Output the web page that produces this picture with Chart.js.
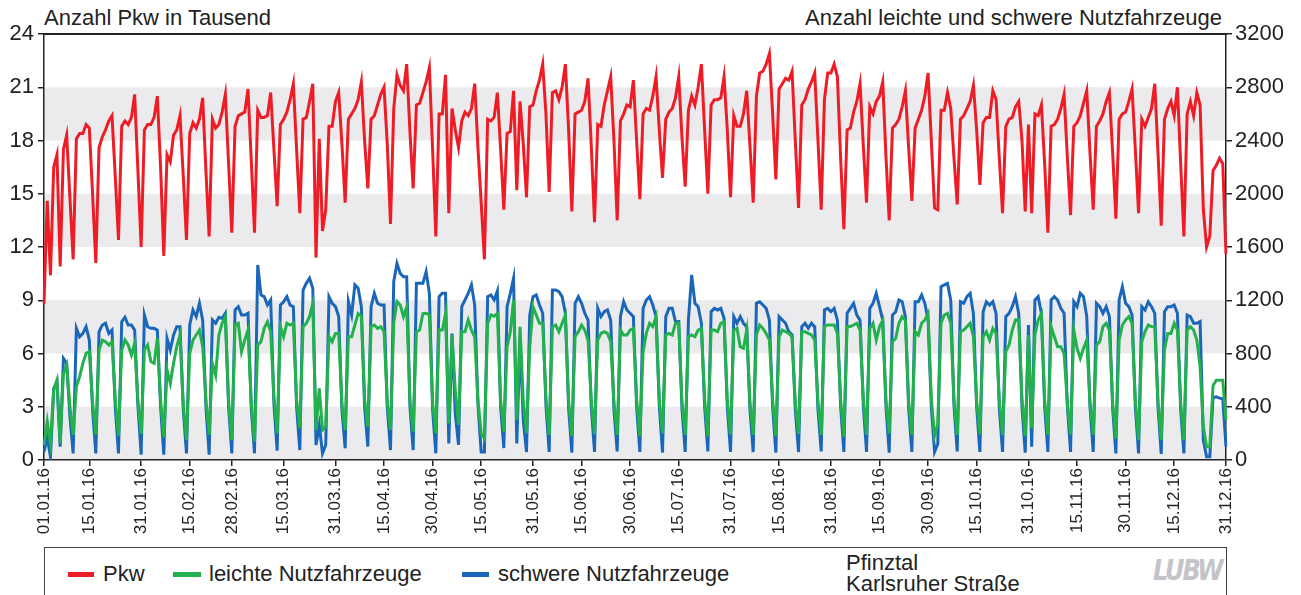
<!DOCTYPE html>
<html><head><meta charset="utf-8">
<script src="https://cdn.jsdelivr.net/npm/chart.js@4.4.1/dist/chart.umd.min.js"></script>
<style>
html,body{margin:0;padding:0;background:#fff;}
body{width:1301px;height:595px;overflow:hidden;position:relative;font-family:"Liberation Sans",Arial,sans-serif;color:#222;}
.t{position:absolute;white-space:nowrap;font-size:22px;line-height:24px;}
#legend{position:absolute;left:44px;top:547px;width:1183px;height:60px;border:1px solid #444;box-sizing:border-box;}
.sw{position:absolute;height:5px;top:24px;}
.lt{position:absolute;top:14px;font-size:22px;line-height:24px;white-space:nowrap;}
#warn{position:absolute;left:300px;top:300px;color:#f0f;font-size:30px;}
</style></head>
<body>
<div class="t" style="left:44px;top:6px;">Anzahl Pkw in Tausend</div>
<div class="t" style="right:79px;top:6px;">Anzahl leichte und schwere Nutzfahrzeuge</div>
<canvas id="c" width="1301" height="545" style="position:absolute;left:0;top:0;"></canvas>
<div id="legend">
  <div class="sw" style="left:23px;width:26px;background:#ee1c25;"></div>
  <div class="lt" style="left:58px;">Pkw</div>
  <div class="sw" style="left:128px;width:28px;background:#22b14c;"></div>
  <div class="lt" style="left:164px;">leichte Nutzfahrzeuge</div>
  <div class="sw" style="left:417px;width:27px;background:#1a66b8;"></div>
  <div class="lt" style="left:453px;">schwere Nutzfahrzeuge</div>
  <div class="lt" style="left:801px;top:3px;">Pfinztal</div>
  <div class="lt" style="left:801px;top:24px;">Karlsruher Straße</div>
  <div class="lt" style="left:1108px;top:11px;font-size:28px;font-weight:bold;font-style:italic;color:#c4c4c8;letter-spacing:-2px;font-family:'Liberation Sans Narrow','DejaVu Sans Condensed',sans-serif;transform:scaleX(0.95);transform-origin:left center;">LUBW</div>
</div>
<div id="warn"></div>
<script>
// ---- categories: every day of 2016 ----
const days = [];
for (let d = new Date(2016, 0, 1); d.getFullYear() === 2016; d.setDate(d.getDate() + 1)) {
  const dd = String(d.getDate()).padStart(2, '0'), mm = String(d.getMonth() + 1).padStart(2, '0');
  days.push(dd + '.' + mm + '.16');
}
// ---- x tick labels ----
const tickLabels = ["01.01.16","15.01.16","31.01.16","15.02.16","28.02.16","15.03.16","31.03.16","15.04.16","30.04.16","15.05.16","31.05.16","15.06.16","30.06.16","15.07.16","31.07.16","15.08.16","31.08.16","15.09.16","30.09.16","15.10.16","31.10.16","15.11.16","30.11.16","15.12.16","31.12.16"];
const leftTicks = [0,3,6,9,12,15,18,21,24];
const rightTicks = [0,400,800,1200,1600,2000,2400,2800,3200];

// ---- Pkw in Tausend (daily) ----
const pkw = [
 8.8,14.6,10.4,
 16.5,17.2,10.9,17.5,18.3,14.8,11.3,
 18.1,18.4,18.4,18.9,18.7,15.0,11.1,
 17.6,18.2,18.6,19.1,19.4,16.0,12.4,
 18.8,19.1,18.9,19.3,20.6,16.3,12.0,
 18.6,18.9,18.9,19.3,20.5,16.5,11.5,
 17.2,16.8,18.3,18.6,19.4,16.0,12.4,
 18.4,19.0,18.7,19.2,20.4,16.3,12.6,
 19.2,18.7,18.9,19.6,20.6,16.7,12.8,
 18.8,19.4,19.5,19.6,20.9,16.9,12.8,
 19.7,19.3,19.3,19.4,20.7,17.5,14.3,
 18.9,19.2,19.6,20.3,21.2,17.5,13.9,
 19.2,19.3,20.2,21.2,11.4,18.1,12.9,
 14.1,18.8,18.8,20.2,20.7,17.8,14.5,
 19.2,19.5,19.8,20.3,21.3,18.0,15.3,
 19.2,19.4,20.0,20.6,21.0,17.8,13.3,
 19.8,21.7,21.1,20.8,22.3,18.5,15.3,
 20.0,20.1,20.7,21.3,22.1,17.5,12.6,
 19.5,19.5,21.7,13.9,19.8,18.6,17.6,
 19.1,19.6,19.4,19.8,21.2,17.6,14.5,
 11.3,19.2,19.1,19.3,20.7,17.5,14.1,
 18.4,18.5,20.8,15.2,20.2,17.8,14.8,
 19.9,20.0,20.8,21.4,22.3,19.5,15.1,
 20.7,20.8,20.3,21.0,22.3,18.6,14.0,
 19.5,19.6,19.7,20.2,21.5,17.7,13.4,
 18.9,18.8,20.0,20.8,21.6,18.0,13.5,
 19.1,19.5,20.0,19.9,21.4,18.0,14.7,
 19.5,19.8,19.7,20.5,21.6,18.6,15.9,
 19.2,19.6,19.8,20.4,21.6,18.2,15.4,
 19.7,20.5,20.0,21.0,22.3,18.6,15.0,
 20.0,20.3,20.3,20.4,21.6,18.6,14.8,
 19.4,18.8,18.8,19.5,20.8,17.7,14.5,
 20.5,21.8,21.9,22.3,22.9,19.5,15.8,
 20.9,21.2,21.5,21.4,21.9,18.0,14.2,
 20.0,20.3,20.9,21.3,21.8,18.0,14.1,
 20.3,21.8,21.8,22.3,21.6,17.0,13.0,
 18.6,18.7,19.6,20.2,21.2,17.7,14.5,
 19.9,19.5,20.2,20.5,21.3,17.1,13.5,
 18.7,18.9,19.2,19.9,20.8,17.6,14.6,
 18.7,19.2,19.7,20.5,21.8,18.0,14.2,
 14.1,19.7,19.7,20.7,19.8,17.0,14.4,
 19.2,19.4,19.8,20.2,21.1,18.6,15.5,
 19.0,19.3,19.3,20.8,20.3,17.0,13.9,
 18.8,19.2,19.3,19.9,20.2,18.0,14.0,
 18.9,13.9,19.5,19.4,20.0,16.7,12.8,
 18.8,18.9,19.2,19.8,20.6,17.1,13.8,
 18.8,19.0,19.4,20.1,20.8,17.3,14.1,
 18.8,19.1,19.5,20.2,20.7,17.3,13.6,
 19.2,19.5,19.6,20.2,20.9,17.5,13.9,
 19.2,18.8,19.3,19.8,21.2,17.3,13.2,
 19.2,19.8,20.2,19.4,21.0,16.7,12.6,
 19.5,20.2,19.4,20.7,20.0,14.1,12.0,
 12.6,16.3,16.6,17.0,16.7,11.6
];

// ---- leichte Nutzfahrzeuge (daily) ----
const leichte = [
 110,290,120,
 526,600,125,650,714,400,188,
 550,626,726,801,814,430,190,
 826,901,889,864,889,460,180,
 826,901,864,789,876,440,195,
 826,864,739,726,914,450,170,
 676,576,726,851,939,420,150,
 801,901,939,976,850,460,188,
 726,638,939,1027,1077,440,150,
 1014,1027,814,901,976,430,140,
 864,889,989,1039,964,470,200,
 1002,926,1027,1014,1027,450,238,
 1002,1027,1077,1177,225,538,225,
 250,926,889,951,951,420,225,
 926,926,1014,1100,1080,460,250,
 1002,1014,989,1002,964,430,225,
 1027,1190,1164,1077,1150,450,213,
 964,976,1100,1102,1089,430,200,
 976,976,1100,275,939,526,263,
 964,964,1052,976,926,450,200,
 160,1027,1090,1080,1100,450,213,
 851,964,1202,300,1000,450,200,
 851,1152,1089,1027,1027,470,188,
 1002,1014,964,1027,1089,440,180,
 926,964,1014,976,900,450,195,
 901,951,964,951,889,430,188,
 976,939,939,976,989,460,180,
 814,951,1027,1002,1077,450,200,
 939,951,939,1027,1027,440,188,
 926,939,926,976,989,460,175,
 976,976,964,1027,1039,450,190,
 976,989,851,839,976,430,188,
 939,1014,989,951,900,450,180,
 926,976,964,951,926,430,195,
 964,964,951,939,901,430,188,
 1002,1014,1014,1014,950,450,175,
 1002,1002,1014,1027,976,460,188,
 989,1027,901,1000,1050,450,200,
 889,914,1027,1077,1050,440,188,
 964,939,1027,1052,1100,460,180,
 270,1027,1089,1102,1027,450,188,
 964,976,1002,1027,926,440,195,
 926,964,900,989,950,450,188,
 814,864,976,1052,1050,460,180,
 939,238,939,1052,1100,450,188,
 1002,926,851,851,800,430,190,
 976,839,764,839,900,430,188,
 864,889,1002,1027,976,430,160,
 901,1014,1052,1077,1027,450,150,
 889,964,1014,1002,1000,440,150,
 826,951,951,1027,976,430,150,
 976,1002,976,900,700,250,100,
 100,560,600,600,600,300
];

// ---- schwere Nutzfahrzeuge (daily) ----
const schwere = [
 60,170,25,
 538,588,100,763,726,330,50,
 989,926,951,1001,901,380,50,
 964,1014,1027,951,976,400,50,
 1039,1072,1014,1014,976,410,40,
 1089,1001,989,989,976,400,40,
 914,826,939,1001,1001,380,50,
 1014,1127,1077,1177,1050,400,40,
 1052,1027,1072,1064,1102,400,50,
 1127,1152,1089,1089,1102,390,50,
 1465,1239,1227,1164,1202,420,70,
 1164,1189,1227,1164,1152,400,75,
 1277,1327,1365,1290,113,263,50,
 113,1227,1177,1152,1077,380,88,
 1189,1089,1315,1290,1152,400,100,
 1152,1252,1177,1164,1164,400,75,
 1340,1477,1402,1377,1377,400,75,
 1327,1327,1327,1415,1252,380,50,
 1227,1252,1252,125,950,350,113,
 1152,1202,1252,1315,1164,420,60,
 60,1227,1240,1202,1270,400,90,
 1152,1252,1365,125,900,300,60,
 1089,1227,1240,1164,1102,410,60,
 1277,1277,1265,1227,1102,390,55,
 1177,1227,1177,1102,1050,400,60,
 1139,1077,1114,1127,1050,380,65,
 1077,1189,1127,1102,1077,400,60,
 1139,1202,1227,1164,1077,410,55,
 1077,1139,1139,1039,1040,390,60,
 1052,1390,1177,1152,1027,400,65,
 1114,1139,1127,1139,1064,400,60,
 1077,1027,1077,1027,1000,380,60,
 1177,1189,1164,1139,1050,400,55,
 1077,1052,1027,964,940,380,60,
 1001,1027,989,1027,1000,380,65,
 1127,1139,1114,1139,1050,400,60,
 1102,1139,1177,1089,1050,410,60,
 1139,1177,1252,1152,1050,400,55,
 1089,1114,1202,1189,1077,390,60,
 1189,1189,1239,1177,1052,400,60,
 120,1302,1315,1327,1200,410,65,
 1189,1177,1227,1252,1100,400,60,
 1114,1189,1164,1189,1100,390,60,
 1077,1102,1152,1227,1100,400,55,
 1014,100,1202,1227,1100,400,60,
 1202,1227,1202,1139,1102,410,60,
 1189,1152,1252,1227,1077,400,60,
 1177,1152,1102,1152,1077,390,50,
 1202,1302,1177,1152,1089,400,50,
 1152,1127,1189,1152,1102,400,45,
 1114,1152,1152,1164,1102,380,50,
 1089,1077,1027,1027,1040,150,25,
 25,470,475,465,460,100
];

if (pkw.length !== days.length || leichte.length !== days.length || schwere.length !== days.length) {
  document.getElementById('warn').textContent = 'LEN ' + days.length + ' ' + pkw.length + ' ' + leichte.length + ' ' + schwere.length;
}

const tickIdx = tickLabels.map(l => days.indexOf(l));
const FONT = '"Liberation Sans", Arial, sans-serif';
const AX = '#222';

const bandsPlugin = {
  id: 'bands',
  beforeDraw(chart) {
    const {ctx, chartArea: a, scales: {y}} = chart;
    ctx.save();
    ctx.fillStyle = '#ebebee';
    for (let i = 0; i < leftTicks.length - 1; i += 2) {
      const top = y.getPixelForValue(leftTicks[i + 1]);
      const bot = y.getPixelForValue(leftTicks[i]);
      ctx.fillRect(a.left, top, a.right - a.left, bot - top);
    }
    ctx.restore();
  },
  afterDraw(chart) {
    const {ctx, chartArea: a} = chart;
    ctx.save();
    ctx.strokeStyle = AX;
    ctx.lineWidth = 2;
    ctx.beginPath();
    ctx.moveTo(a.left - 1, a.top);
    ctx.lineTo(a.right + 1, a.top);
    ctx.stroke();
    ctx.restore();
  }
};

new Chart(document.getElementById('c'), {
  type: 'line',
  data: {
    labels: days,
    datasets: [
      {label: 'Pkw', data: pkw, yAxisID: 'y', borderColor: '#ee1c25', borderWidth: 3, order: 0},
      {label: 'leichte Nutzfahrzeuge', data: leichte, yAxisID: 'y2', borderColor: '#22b14c', borderWidth: 3, order: 1},
      {label: 'schwere Nutzfahrzeuge', data: schwere, yAxisID: 'y2', borderColor: '#1a66b8', borderWidth: 3, order: 2}
    ]
  },
  options: {
    responsive: false,
    animation: false,
    devicePixelRatio: 1,
    layout: {padding: {top: 34, left: 0, right: 0, bottom: 0}},
    elements: {point: {radius: 0}, line: {tension: 0, fill: false}},
    plugins: {legend: {display: false}, tooltip: {enabled: false}},
    scales: {
      x: {
        type: 'category',
        offset: false,
        afterFit(s) { s.height = 85; },
        afterBuildTicks(s) { s.ticks = tickIdx.map(v => ({value: v})); },
        grid: {display: true, drawOnChartArea: false, drawTicks: true, tickLength: 6, color: AX, lineWidth: 1.5},
        border: {display: true, color: AX, width: 1.5},
        ticks: {autoSkip: false, minRotation: 90, maxRotation: 90, padding: 2, color: AX,
                font: {family: FONT, size: 17}, callback: v => days[v]}
      },
      y: {
        position: 'left', min: 0, max: 24,
        afterFit(s) { s.width = 44; },
        afterBuildTicks(s) { s.ticks = leftTicks.map(v => ({value: v})); },
        grid: {display: true, drawOnChartArea: false, drawTicks: true, tickLength: 6, color: AX, lineWidth: 1.5},
        border: {display: true, color: AX, width: 1.5},
        ticks: {padding: 4, color: AX, font: {family: FONT, size: 22}, callback: v => String(v)}
      },
      y2: {
        position: 'right', min: 0, max: 3200,
        afterFit(s) { s.width = 75; },
        afterBuildTicks(s) { s.ticks = rightTicks.map(v => ({value: v})); },
        grid: {display: true, drawOnChartArea: false, drawTicks: true, tickLength: 6, color: AX, lineWidth: 1.5},
        border: {display: true, color: AX, width: 1.5},
        ticks: {padding: 3, color: AX, font: {family: FONT, size: 22}, callback: v => String(v)}
      }
    }
  },
  plugins: [bandsPlugin]
});
</script>
</body></html>
